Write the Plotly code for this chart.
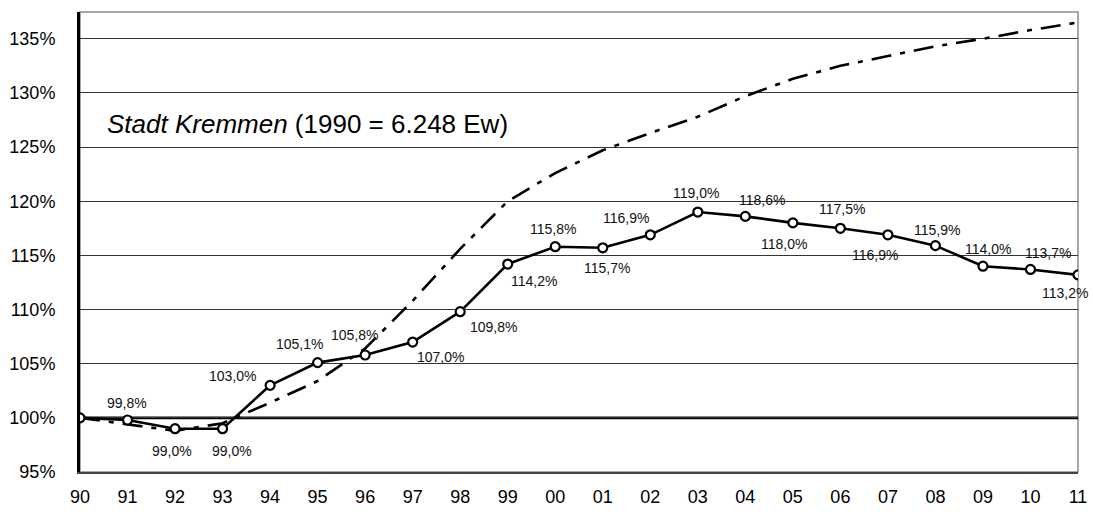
import plotly.graph_objects as go

# Jahre (zweistellig) und Bevölkerungsentwicklung in % von 1990
years = ["90", "91", "92", "93", "94", "95", "96", "97", "98", "99", "00",
         "01", "02", "03", "04", "05", "06", "07", "08", "09", "10", "11"]
kremmen = [100.0, 99.8, 99.0, 99.0, 103.0, 105.1, 105.8, 107.0, 109.8, 114.2, 115.8,
           115.7, 116.9, 119.0, 118.6, 118.0, 117.5, 116.9, 115.9, 114.0, 113.7, 113.2]
vergleich = [100.0, 99.4, 98.8, 99.5, 101.4, 103.4, 106.4, 110.8, 115.6, 120.0, 122.6,
             124.7, 126.3, 127.8, 129.7, 131.3, 132.5, 133.4, 134.3, 135.0, 135.8, 136.5]
y_ticks = [95, 100, 105, 110, 115, 120, 125, 130, 135]
y_tick_labels = [f"{t}%" for t in y_ticks]

# Pixelversatz der Wertebeschriftungen (dx, dy) gegenüber dem jeweiligen Punkt
label_offsets = [None, (-1, 17), (-3, -22), (9, -22), (-38, 9), (-18, 19), (-11, 20),
                 (28, -15), (33, -15), (26, -17), (-2, 18), (4, -20), (-24, 17),
                 (-2, 19), (17, 16), (-9, -21), (2, 19), (-13, -20), (2, 16),
                 (5, 17), (18, 16), (-13, -18)]

FONT = "Liberation Sans, Arial, sans-serif"

# Jahre als Positionen 0..21 auf einer linearen Achse
xpos = list(range(len(years)))

fig = go.Figure()

fig.add_trace(go.Scatter(
    x=xpos, y=vergleich, mode="lines",
    line=dict(color="black", width=2.6, dash="20px,9px,5px,9px"),
    hoverinfo="skip", showlegend=False,
))

fig.add_trace(go.Scatter(
    x=xpos, y=kremmen, mode="lines+markers",
    line=dict(color="black", width=2.6),
    marker=dict(symbol="circle", size=9, color="white",
                line=dict(color="black", width=2.2)),
    showlegend=False,
))

def fmt(v):
    return f"{v:.1f}".replace(".", ",") + "%"

for xi, v, off in zip(xpos, kremmen, label_offsets):
    if off is None:
        continue
    fig.add_annotation(
        x=xi, y=v, text=fmt(v), showarrow=False,
        xshift=off[0], yshift=off[1],
        xanchor="center", yanchor="middle",
        font=dict(family=FONT, size=14, color="#111"),
    )

# Titel im Diagramm
fig.add_annotation(
    xref="paper", yref="paper", x=0.025, y=0.757,
    xanchor="left", yanchor="middle", showarrow=False,
    text="<i>Stadt Kremmen</i> (1990 = 6.248 Ew)",
    font=dict(family=FONT, size=26, color="black"),
)

# Rahmen oben/rechts
fig.add_shape(type="rect", xref="paper", yref="paper", x0=0, x1=1, y0=0, y1=1,
              line=dict(color="#8a8a8a", width=1.5), layer="below")
# 100%-Linie
fig.add_shape(type="line", xref="paper", yref="y", x0=0, x1=1, y0=100, y1=100,
              line=dict(color="black", width=2.6), layer="between")

fig.update_xaxes(
    range=[0, 21], tickvals=xpos, ticktext=years, automargin=False,
    showgrid=False, showline=True, linecolor="#444", linewidth=2,
    zeroline=False, ticks="", ticklabelstandoff=7,
    tickfont=dict(family=FONT, size=18, color="black"),
)
fig.update_yaxes(
    range=[95, 137.47], tickvals=y_ticks, ticktext=y_tick_labels, automargin=False,
    showgrid=True, gridcolor="#333", gridwidth=1,
    showline=True, linecolor="black", linewidth=3,
    zeroline=False, ticks="", ticklabelstandoff=18,
    tickfont=dict(family=FONT, size=18, color="black"),
)

fig.update_layout(
    width=1093, height=512,
    margin=dict(l=80, r=15, t=12, b=40),
    plot_bgcolor="white", paper_bgcolor="white",
)

fig.write_html("out.html")
